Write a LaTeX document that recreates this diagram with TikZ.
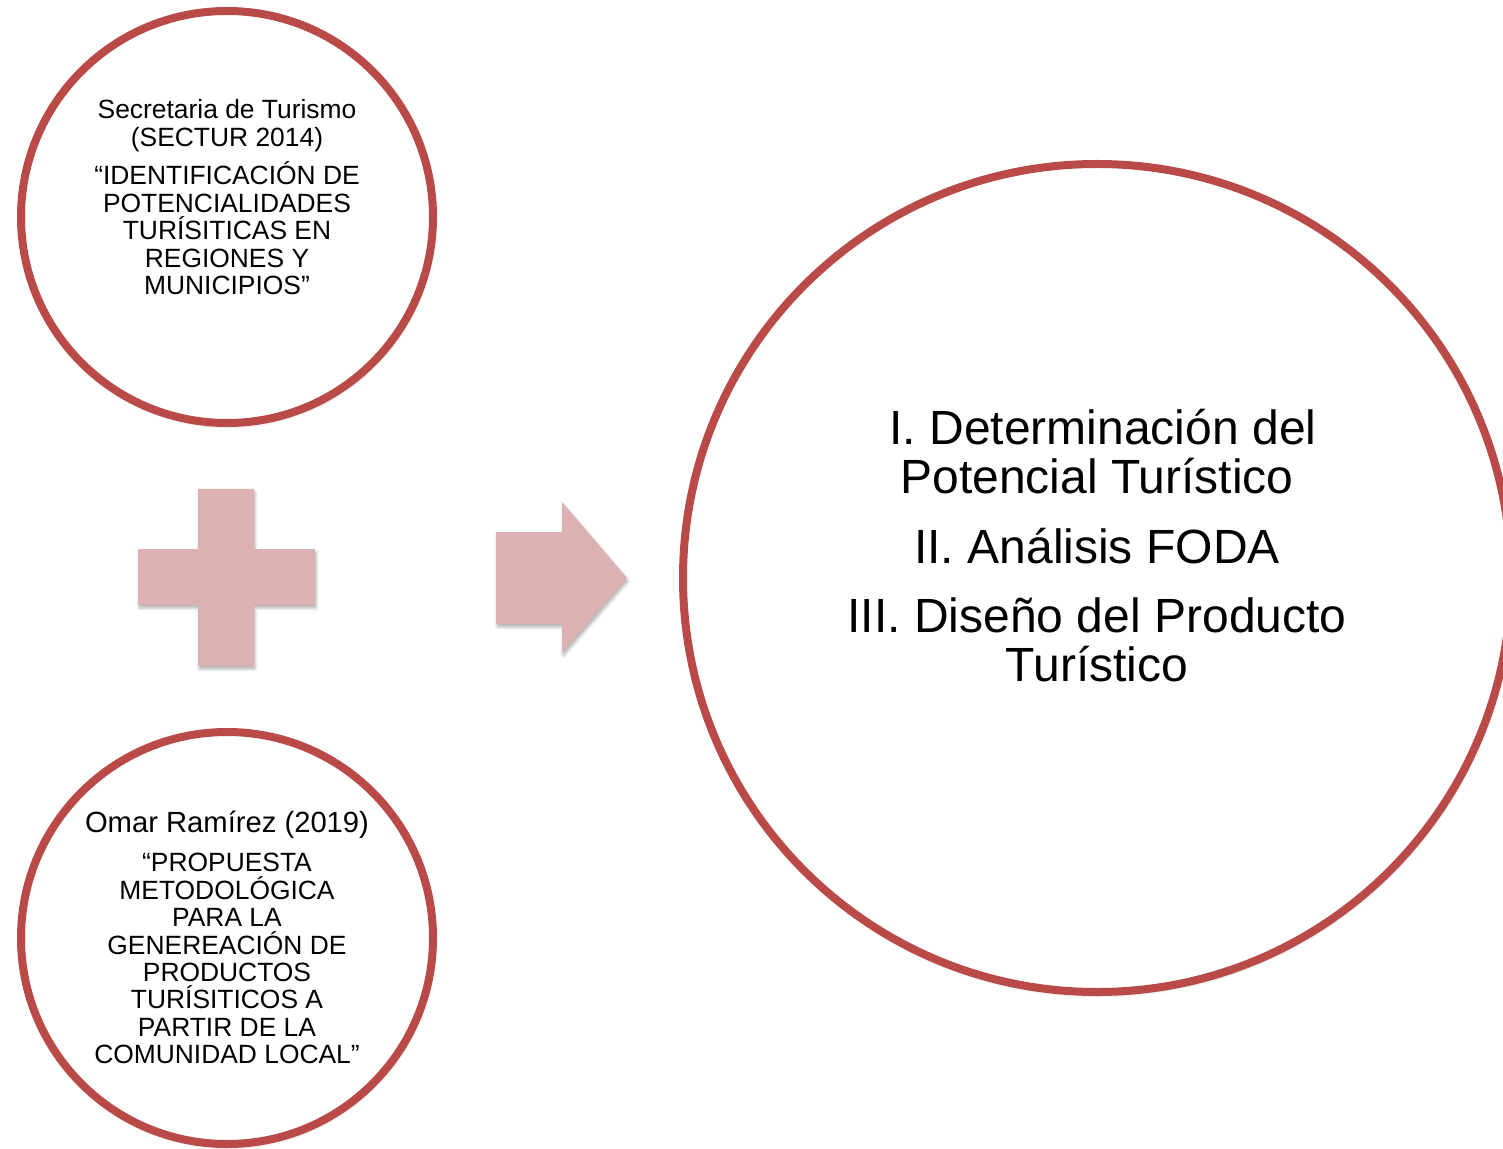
\documentclass[tikz,border=0pt]{standalone}
\usepackage{fontspec}
\setmainfont{Liberation Sans}
\usetikzlibrary{shadows.blur}
\definecolor{kreisrot}{RGB}{185,74,71}
\definecolor{rosa}{RGB}{219,177,177}

\begin{document}
\begin{tikzpicture}[x=0.5pt,y=-0.5pt,
  schatten/.style={blur shadow={shadow xshift=0.6pt,shadow yshift=-1.5pt,shadow opacity=30,shadow blur radius=1.5pt}},
  kreis/.style={circle,draw=kreisrot,line width=4pt,fill=white,inner sep=0pt,minimum size=#1,schatten},
  klein/.style={align=center,inner sep=0pt,anchor=north,font=\fontsize{13.2pt}{#1}\selectfont},
  gross/.style={align=center,inner sep=0pt,anchor=north,font=\fontsize{24pt}{24.5pt}\selectfont},
  form/.style={fill=rosa,schatten}]
  \useasboundingbox (0,0) rectangle (1503,1149);

  % Kreise
  \node[kreis=206pt] (sectur) at (227,217) {};
  \node[kreis=206pt] (ramirez) at (227,938) {};
  \node[kreis=414pt] (etapas) at (1097,578) {};

  % Texte
  \node[klein=13.8pt] (txtsectur) at (227,99) {Secretaria de Turismo\\(SECTUR 2014)\\[4pt]
    “IDENTIFICACIÓN DE\\POTENCIALIDADES\\TURÍSITICAS EN\\REGIONES Y\\MUNICIPIOS”};
  \node[klein=13.7pt] (txtramirez) at (227,811) {{\fontsize{14.6pt}{13.7pt}\selectfont Omar Ramírez (2019)}\\[5.8pt]
    “PROPUESTA\\METODOLÓGICA\\PARA LA\\GENEREACIÓN DE\\PRODUCTOS\\TURÍSITICOS A\\PARTIR DE LA\\COMUNIDAD LOCAL”};
  \node[gross] (txtetapas) at (1097,409) {\hspace*{6pt}I. Determinación del\\Potencial Turístico\\[10.25pt]
    II. Análisis FODA\\[10.25pt]III. Diseño del Producto\\Turístico};

  % Plus
  \fill[form] (198,489) -- (254,489) -- (254,549) -- (315,549) -- (315,605) -- (254,605) -- (254,666)
    -- (198,666) -- (198,605) -- (138,605) -- (138,549) -- (198,549) -- cycle;

  % Pfeil
  \fill[form] (496,532) -- (562,532) -- (562,502) -- (627,578) -- (562,653) -- (562,624) -- (496,624) -- cycle;

\end{tikzpicture}
\end{document}
